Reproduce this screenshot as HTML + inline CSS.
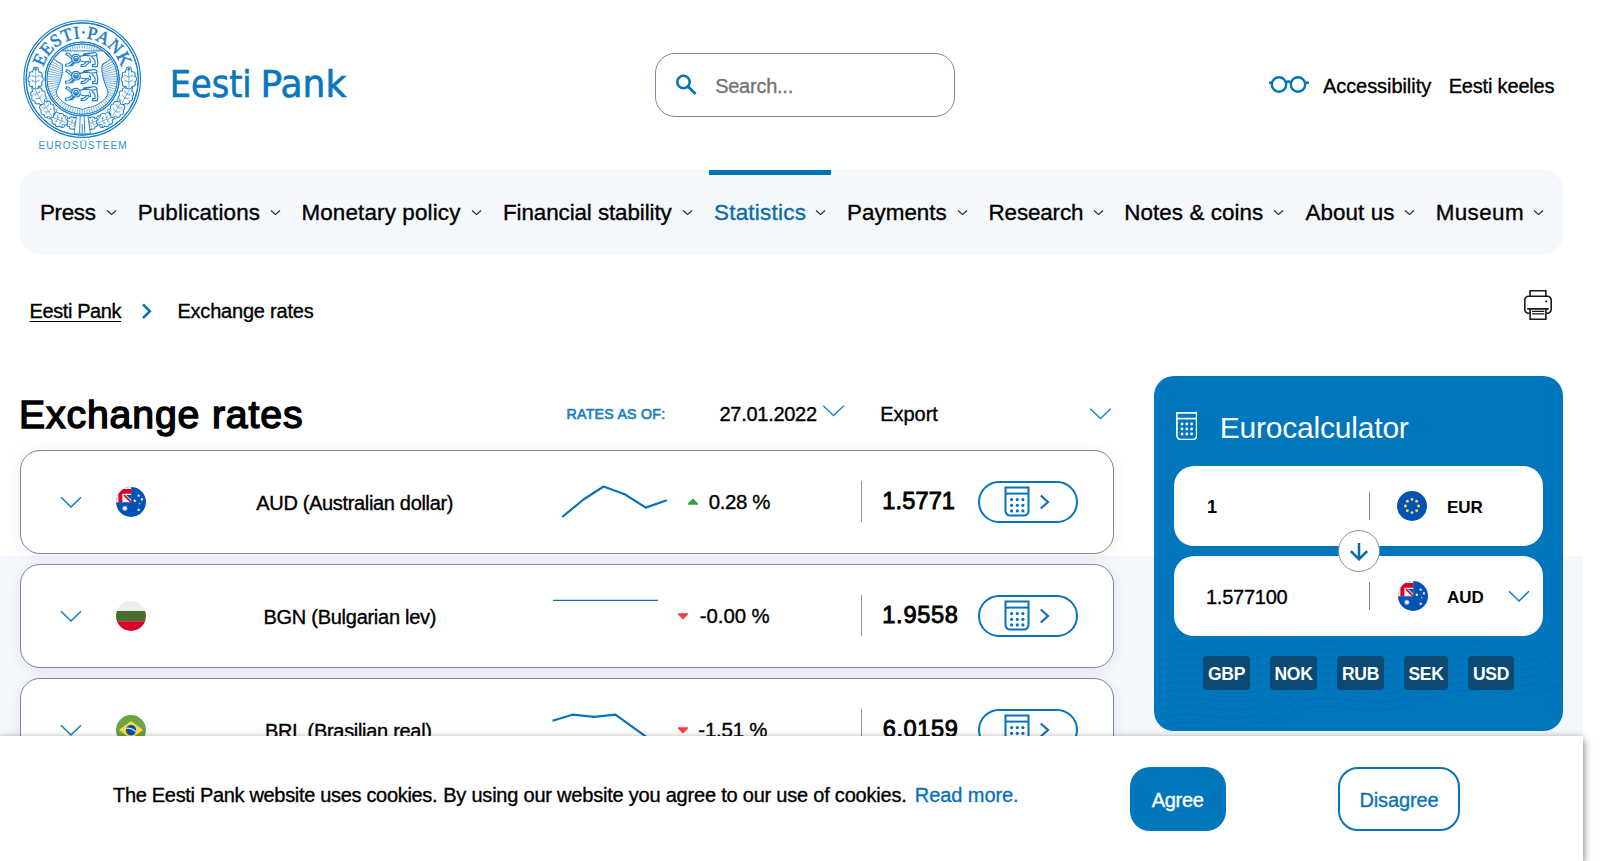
<!DOCTYPE html>
<html lang="en">
<head>
<meta charset="utf-8">
<title>Exchange rates | Eesti Pank</title>
<style>
*{box-sizing:border-box;margin:0;padding:0}
html,body{width:1603px;height:861px;overflow:hidden;background:#fff}
body{font-family:"Liberation Sans",sans-serif;color:#000;position:relative}
.abs{position:absolute}
.t{position:absolute;white-space:nowrap;line-height:1;-webkit-text-stroke:0.350px}
#greybg{left:0;top:556px;width:1583px;height:305px;background:#f4f7fb}
/* header */
#search{left:655px;top:53px;width:300px;height:64px;border:1px solid #7a869e;border-radius:20px;background:#fff}
#nav{left:20px;top:170px;width:1543px;height:84px;background:#f4f7fb;border-radius:20px}
#navact{left:709px;top:170px;width:122px;height:5px;background:#0073b5}
.nv{font-size:22.4px;top:201.700px;color:#000}
.nv.act{color:#0a6ea6}
.chev{position:absolute;top:209px;width:11px;height:7px}
/* cards */
.card{position:absolute;left:20px;width:1094px;height:104px;border:1px solid #7c869a;border-radius:20px;background:#fff;box-shadow:0 2px 14px rgba(20,40,80,.08)}
.cname{font-size:20px}
.pct{font-size:20.400px}
.rate{font-size:23.600px;-webkit-text-stroke:0.900px}
.vline{position:absolute;left:861px;width:1px;height:41px;background:#8b94a8}
.pill{position:absolute;left:978px;width:100px;height:42px;border:2px solid #0a73b7;border-radius:21px;background:#fff}
/* calc */
#calc{left:1154px;top:376px;width:409px;height:355px;background:#0076bd;border-radius:20px;overflow:hidden}
.cbox{position:absolute;left:1174px;width:369px;height:80px;background:#fff;border-radius:20px}
.cur{position:absolute;top:656px;height:34px;background:#0a4a73;color:#fff;border-radius:4px;font-size:17.500px;font-weight:bold;line-height:36px;text-align:center;letter-spacing:-0.300px}
/* cookie */
#cookie{left:0;top:736px;width:1583px;height:125px;background:#fff;box-shadow:0 3px 8px rgba(0,0,0,.6)}
</style>
</head>
<body>
<svg width="0" height="0" style="position:absolute">
<defs>
<clipPath id="cc"><circle cx="15" cy="15" r="15"/></clipPath>
<symbol id="f-au" viewBox="0 0 30 30"><g clip-path="url(#cc)"><rect width="30" height="30" fill="#0052b4"/><path d="M0 0h15.200v15.200H0z" fill="#f0f0f0"/><path d="M4.500 2h10.700v4.800H6.300v8.400H2.400V4.500z" fill="#d80027"/><path d="M10.200 8.100H15.200V12.700z" fill="#0052b4"/><path d="M7.400 8.700l1.100-1.100L15.200 14v1.200h-1.100z" fill="#d80027"/><path d="M8.90 18.20L9.64 19.87L11.40 19.40L10.56 21.02L12.02 22.11L10.23 22.46L10.29 24.28L8.90 23.10L7.51 24.28L7.57 22.46L5.78 22.11L7.24 21.02L6.40 19.40L8.16 19.87ZM22.70 6.80L23.20 7.91L24.41 8.04L23.51 8.86L23.76 10.06L22.70 9.45L21.64 10.06L21.89 8.86L20.99 8.04L22.20 7.91ZM25.90 10.50L26.40 11.61L27.61 11.74L26.71 12.56L26.96 13.76L25.90 13.15L24.84 13.76L25.09 12.56L24.19 11.74L25.40 11.61ZM18.80 12.00L19.30 13.11L20.51 13.24L19.61 14.06L19.86 15.26L18.80 14.65L17.74 15.26L17.99 14.06L17.09 13.24L18.30 13.11ZM23.60 15.70L23.89 16.30L24.55 16.39L24.08 16.85L24.19 17.51L23.60 17.20L23.01 17.51L23.12 16.85L22.65 16.39L23.31 16.30ZM22.70 21.00L23.20 22.11L24.41 22.24L23.51 23.06L23.76 24.26L22.70 23.65L21.64 24.26L21.89 23.06L20.99 22.24L22.20 22.11Z" fill="#f0f0f0"/></g></symbol>
<symbol id="f-bg" viewBox="0 0 30 30"><g clip-path="url(#cc)"><rect width="30" height="10" fill="#eee"/><rect y="10" width="30" height="10.300" fill="#496e2d"/><rect y="20.300" width="30" height="9.700" fill="#d80027"/></g></symbol>
<symbol id="f-br" viewBox="0 0 30 30"><g clip-path="url(#cc)"><rect width="30" height="30" fill="#6da544"/><path d="M15 6l12 9-12 9L3 15z" fill="#ffda44"/><circle cx="15" cy="15" r="5.200" fill="#0052b4"/><path d="M10.200 13.300q5-1 9.700 3.200" stroke="#f0f0f0" stroke-width="1.300" fill="none"/></g></symbol>
<symbol id="f-eu" viewBox="0 0 30 30"><g clip-path="url(#cc)"><rect width="30" height="30" fill="#0052b4"/><g fill="#ffda44"><circle cx="15" cy="8.400" r="1.450"/><circle cx="15" cy="21.600" r="1.450"/><circle cx="8.400" cy="15" r="1.450"/><circle cx="21.600" cy="15" r="1.450"/><circle cx="10.300" cy="10.300" r="1.450"/><circle cx="19.700" cy="10.300" r="1.450"/><circle cx="10.300" cy="19.700" r="1.450"/><circle cx="19.700" cy="19.700" r="1.450"/></g></g></symbol>
<symbol id="i-calc" viewBox="0 0 26 31"><g fill="none" stroke="#0a73b7" stroke-width="2"><path d="M1.500 1.500h23v23.500a4.500 4.500 0 0 1-4.500 4.500h-14a4.500 4.500 0 0 1-4.500-4.500z"/><path d="M1.500 7.600h23"/></g><g fill="#0a73b7"><circle cx="7.600" cy="13.600" r="1.600"/><circle cx="13.300" cy="13.600" r="1.600"/><circle cx="18.900" cy="13.600" r="1.600"/><circle cx="7.600" cy="19.300" r="1.600"/><circle cx="13.300" cy="19.300" r="1.600"/><circle cx="18.900" cy="19.300" r="1.600"/><circle cx="7.600" cy="24.900" r="1.600"/><circle cx="13.300" cy="24.900" r="1.600"/><circle cx="18.900" cy="24.900" r="1.600"/></g></symbol>
<symbol id="i-chv" viewBox="0 0 22 13"><path d="M1 1.300L11 11L21 1.300" fill="none" stroke="#0a7dc2" stroke-width="1.500"/></symbol>
<symbol id="i-chr" viewBox="0 0 11 16"><path d="M1.800 1.500L9 8l-7.200 6.500" fill="none" stroke="#0a73b7" stroke-width="2.200"/></symbol>
</defs>
</svg>
<div class="abs" id="greybg"></div>

<!-- HEADER -->
<div id="logo" class="abs" style="left:20px;top:15px;width:340px;height:140px">
<svg width="340" height="140" viewBox="0 0 340 140">
<!--SEAL-->
<path d="M81.7 64L97.2 64M81.65 65.46L97.1 66.62M81.48 66.91L96.81 69.22M81.21 68.34L96.32 71.79M80.83 69.75L95.65 74.32M80.35 71.12L94.78 76.79M79.77 72.46L93.73 79.19M79.09 73.75L92.51 81.5M78.31 74.98L91.12 83.72M77.45 76.16L89.56 85.82M84.56 84.75L87.86 87.81M82.95 86.36L86.01 89.66M81.22 87.85L84.02 91.36M79.38 89.2L81.92 92.92M77.45 90.41L79.7 94.31M75.43 91.48L77.39 95.53M73.34 92.39L74.99 96.58M71.19 93.14L72.52 97.45M68.99 93.74L69.99 98.12M66.75 94.16L67.42 98.61M64.48 94.41L64.82 98.9M62.2 94.5L62.2 99M59.92 94.41L59.58 98.9M57.65 94.16L56.98 98.61M55.41 93.74L54.41 98.12M53.21 93.14L51.88 97.45M51.06 92.39L49.41 96.58M48.97 91.48L47.01 95.53M46.95 90.41L44.7 94.31M45.02 89.2L42.48 92.92M43.18 87.85L40.38 91.36M41.45 86.36L38.39 89.66M39.84 84.75L36.54 87.81M46.95 76.16L34.84 85.82M46.09 74.98L33.28 83.72M45.31 73.75L31.89 81.5M44.63 72.46L30.67 79.19M44.05 71.12L29.62 76.79M43.57 69.75L28.75 74.32M43.19 68.34L28.08 71.79M42.92 66.91L27.59 69.22M42.75 65.46L27.3 66.62M42.7 64L27.2 64M42.75 62.54L27.3 61.38M42.92 61.09L27.59 58.78M43.19 59.66L28.08 56.21M43.57 58.25L28.75 53.68M44.05 56.88L29.62 51.21M44.63 55.54L30.67 48.81M45.31 54.25L31.89 46.5M46.09 53.02L33.28 44.28M46.95 51.84L34.84 42.18M39.84 43.25L36.54 40.19M41.45 41.64L38.39 38.34M43.18 40.15L40.38 36.64M45.02 38.8L42.48 35.08M46.95 37.59L44.7 33.69M48.97 36.52L47.01 32.47M51.06 35.61L49.41 31.42M53.21 34.86L51.88 30.55M55.41 34.26L54.41 29.88M57.65 33.84L56.98 29.39M59.92 33.59L59.58 29.1M62.2 33.5L62.2 29M64.48 33.59L64.82 29.1M66.75 33.84L67.42 29.39M68.99 34.26L69.99 29.88M71.19 34.86L72.52 30.55M73.34 35.61L74.99 31.42M75.43 36.52L77.39 32.47M77.45 37.59L79.7 33.69M79.38 38.8L81.92 35.08M81.22 40.15L84.02 36.64M82.95 41.64L86.01 38.34M84.56 43.25L87.86 40.19M77.45 51.84L89.56 42.18M78.31 53.02L91.12 44.28M79.09 54.25L92.51 46.5M79.77 55.54L93.73 48.81M80.35 56.88L94.78 51.21M80.83 58.25L95.65 53.68M81.21 59.66L96.32 56.21M81.48 61.09L96.81 58.78M81.65 62.54L97.1 61.38" fill="none" stroke="#1b80c9" stroke-width="0.6"/>
<g fill="none" stroke="#1b80c9" stroke-width="1.15">
<circle cx="62.2" cy="64.0" r="58.3"/>
<circle cx="62.2" cy="64.0" r="56.1"/>
<circle cx="62.2" cy="64.0" r="37.0"/>
<circle cx="62.2" cy="64.0" r="35.2"/>
</g>
<path d="M41.3 35.9L83.1 35.9L90.4 43.4C88.2 47 84.2 47.5 82.2 49.4C81.7 54 81.8 56 82.3 58.7C83.2 64 84.7 68 86.2 71.8C87.2 74.5 88.4 76.5 88 78.7C86.7 82 84.7 84.5 81.9 86.6C78.7 89 75.7 90.6 72.3 91.8C68.2 93 64.7 93 62.2 94.6C59.7 93 56.2 93 52.1 91.8C48.7 90.6 45.7 89 42.5 86.6C39.7 84.5 37.7 82 36.4 78.7C36 76.5 37.2 74.5 38.2 71.8C39.7 68 41.2 64 42.1 58.7C42.6 56 42.7 54 42.2 49.4C40.2 47.5 36.2 47 34 43.4Z" fill="#fff" stroke="#1b80c9" stroke-width="1"/>
<path transform="translate(45 37)" d="M11 2.400c-2.600 0-4.300 1.900-4.300 4.300c0 2.500 1.800 4.300 4.300 4.300c2.500 0 4.200-1.800 4.200-4.300c0-2.400-1.700-4.300-4.200-4.300zM11 4.200c-1.400 0-2.300 1.100-2.300 2.500c0 1.500 .9 2.500 2.300 2.500c1.400 0 2.300-1 2.300-2.500c0-1.400-.9-2.500-2.300-2.500zM10.200 6.200v1.500M11.800 6.200v1.500M10.300 8.300h1.400M7.300 4.800L3.600 1.200L1.400 .8L.8 2.600L2.600 3.200L6.700 7.200M7.200 9.200L3.600 11.800L.6 12.200L.4 14.200L4.400 14L8.600 10.800M9.600 11L7.800 13.400L5.800 13.600M15 4.400c3-1 6.500-1.200 9.500-.6c2.500 .5 5 .3 7.500-.8M15.200 8.800c2.500 1 5.500 1.200 8.500 .6M17.500 3.600c2-1.600 4.500-1.200 6.500-1.800c2-.6 4-1.600 6-1c1.500 .5 2.500 1.700 2 2.800M18.500 2.200c2-.8 4-.4 5.800-1.200M22 9.400L19.400 12L16.200 12.600L16 14.400L20.400 14.200L24.400 10.400M27 5.200c1.500 1.200 2.700 2.600 3.200 4.400L30 12.400L27.600 12.600L27.400 14.600L32.400 14.600L32.800 9.600C32.600 7.400 32 5.400 31.400 3.400M24.400 6.200c1 1.400 1.400 2.800 1 4.400" fill="none" stroke="#1b80c9" stroke-width="1.15" stroke-linejoin="round" stroke-linecap="round"/>
<path transform="translate(45 54)" d="M11 2.400c-2.600 0-4.300 1.900-4.300 4.300c0 2.500 1.800 4.300 4.300 4.300c2.500 0 4.200-1.800 4.200-4.300c0-2.400-1.700-4.300-4.200-4.300zM11 4.200c-1.400 0-2.300 1.100-2.300 2.500c0 1.500 .9 2.500 2.300 2.500c1.400 0 2.300-1 2.300-2.500c0-1.400-.9-2.500-2.300-2.500zM10.200 6.200v1.500M11.800 6.200v1.500M10.300 8.300h1.400M7.300 4.800L3.600 1.200L1.400 .8L.8 2.600L2.600 3.200L6.700 7.200M7.200 9.200L3.600 11.800L.6 12.200L.4 14.200L4.400 14L8.600 10.800M9.600 11L7.800 13.400L5.800 13.600M15 4.400c3-1 6.500-1.200 9.500-.6c2.500 .5 5 .3 7.500-.8M15.200 8.800c2.500 1 5.500 1.200 8.500 .6M17.500 3.600c2-1.600 4.500-1.200 6.500-1.800c2-.6 4-1.600 6-1c1.500 .5 2.500 1.700 2 2.800M18.500 2.200c2-.8 4-.4 5.800-1.200M22 9.400L19.400 12L16.200 12.600L16 14.400L20.400 14.200L24.400 10.400M27 5.200c1.500 1.200 2.700 2.600 3.200 4.400L30 12.400L27.600 12.600L27.400 14.600L32.400 14.600L32.800 9.600C32.600 7.400 32 5.400 31.400 3.400M24.400 6.200c1 1.400 1.400 2.800 1 4.400" fill="none" stroke="#1b80c9" stroke-width="1.15" stroke-linejoin="round" stroke-linecap="round"/>
<path transform="translate(45 71)" d="M11 2.400c-2.600 0-4.300 1.900-4.300 4.300c0 2.500 1.800 4.300 4.300 4.300c2.500 0 4.200-1.800 4.200-4.300c0-2.400-1.700-4.300-4.200-4.300zM11 4.200c-1.400 0-2.300 1.100-2.300 2.500c0 1.500 .9 2.500 2.300 2.500c1.400 0 2.300-1 2.300-2.500c0-1.400-.9-2.500-2.300-2.500zM10.200 6.200v1.500M11.800 6.200v1.500M10.300 8.300h1.400M7.300 4.800L3.600 1.200L1.400 .8L.8 2.600L2.600 3.200L6.700 7.200M7.200 9.200L3.600 11.800L.6 12.200L.4 14.200L4.400 14L8.600 10.800M9.600 11L7.800 13.400L5.800 13.600M15 4.400c3-1 6.500-1.200 9.500-.6c2.500 .5 5 .3 7.500-.8M15.200 8.800c2.500 1 5.500 1.200 8.500 .6M17.500 3.600c2-1.600 4.500-1.200 6.500-1.800c2-.6 4-1.600 6-1c1.500 .5 2.500 1.700 2 2.800M18.500 2.200c2-.8 4-.4 5.800-1.200M22 9.400L19.400 12L16.200 12.600L16 14.400L20.400 14.200L24.400 10.400M27 5.200c1.500 1.200 2.700 2.600 3.200 4.400L30 12.400L27.600 12.600L27.400 14.600L32.400 14.600L32.800 9.600C32.600 7.400 32 5.400 31.400 3.400M24.400 6.200c1 1.400 1.400 2.800 1 4.400" fill="none" stroke="#1b80c9" stroke-width="1.15" stroke-linejoin="round" stroke-linecap="round"/>
<path d="M54.92 110.52a3.05 3.05 0 1 0 6.1 0a3.05 3.05 0 1 0 -6.1 0M52.49 109.33a3.05 3.05 0 1 0 6.1 0a3.05 3.05 0 1 0 -6.1 0M50.06 108.15a3.05 3.05 0 1 0 6.1 0a3.05 3.05 0 1 0 -6.1 0M47.64 106.96a3.05 3.05 0 1 0 6.1 0a3.05 3.05 0 1 0 -6.1 0M45.48 105.91a3.05 3.05 0 1 0 6.1 0a3.05 3.05 0 1 0 -6.1 0M44.4 105.19a2.65 2.65 0 1 0 5.3 0a2.65 2.65 0 1 0 -5.3 0M52.51 112.64a2.75 2.75 0 1 0 5.5 0a2.75 2.75 0 1 0 -5.5 0M55.23 107.07a2.75 2.75 0 1 0 5.5 0a2.75 2.75 0 1 0 -5.5 0M48.85 111.67a3.05 3.05 0 1 0 6.1 0a3.05 3.05 0 1 0 -6.1 0M52.09 105.02a3.05 3.05 0 1 0 6.1 0a3.05 3.05 0 1 0 -6.1 0M46.31 109.62a2.75 2.75 0 1 0 5.5 0a2.75 2.75 0 1 0 -5.5 0M49.03 104.05a2.75 2.75 0 1 0 5.5 0a2.75 2.75 0 1 0 -5.5 0" fill="#1b80c9"/><path d="M55.87 110.52a2.1 2.1 0 1 0 4.2 0a2.1 2.1 0 1 0 -4.2 0M53.44 109.33a2.1 2.1 0 1 0 4.2 0a2.1 2.1 0 1 0 -4.2 0M51.01 108.15a2.1 2.1 0 1 0 4.2 0a2.1 2.1 0 1 0 -4.2 0M48.59 106.96a2.1 2.1 0 1 0 4.2 0a2.1 2.1 0 1 0 -4.2 0M46.43 105.91a2.1 2.1 0 1 0 4.2 0a2.1 2.1 0 1 0 -4.2 0M45.35 105.19a1.7 1.7 0 1 0 3.4 0a1.7 1.7 0 1 0 -3.4 0M53.46 112.64a1.8 1.8 0 1 0 3.6 0a1.8 1.8 0 1 0 -3.6 0M56.18 107.07a1.8 1.8 0 1 0 3.6 0a1.8 1.8 0 1 0 -3.6 0M49.8 111.67a2.1 2.1 0 1 0 4.2 0a2.1 2.1 0 1 0 -4.2 0M53.04 105.02a2.1 2.1 0 1 0 4.2 0a2.1 2.1 0 1 0 -4.2 0M47.26 109.62a1.8 1.8 0 1 0 3.6 0a1.8 1.8 0 1 0 -3.6 0M49.98 104.05a1.8 1.8 0 1 0 3.6 0a1.8 1.8 0 1 0 -3.6 0" fill="#fff"/><path d="M59.58 111.3L47.45 105.39M55.54 109.33L55.46 105.4M55.54 109.33L52.39 111.69M52.17 107.69L52.09 103.75M52.17 107.69L49.02 110.04" fill="none" stroke="#1b80c9" stroke-width="0.6"/>
<path d="M41.74 107.27a3.3 3.3 0 1 0 6.6 0a3.3 3.3 0 1 0 -6.6 0M38.74 106.05a3.3 3.3 0 1 0 6.6 0a3.3 3.3 0 1 0 -6.6 0M35.73 104.84a3.3 3.3 0 1 0 6.6 0a3.3 3.3 0 1 0 -6.6 0M32.73 103.62a3.3 3.3 0 1 0 6.6 0a3.3 3.3 0 1 0 -6.6 0M30.06 102.55a3.3 3.3 0 1 0 6.6 0a3.3 3.3 0 1 0 -6.6 0M28.67 101.8a2.85 2.85 0 1 0 5.71 0a2.85 2.85 0 1 0 -5.71 0M39.11 109.81a2.97 2.97 0 1 0 5.93 0a2.97 2.97 0 1 0 -5.93 0M41.71 103.37a2.97 2.97 0 1 0 5.93 0a2.97 2.97 0 1 0 -5.93 0M34.68 108.88a3.3 3.3 0 1 0 6.6 0a3.3 3.3 0 1 0 -6.6 0M37.78 101.2a3.3 3.3 0 1 0 6.6 0a3.3 3.3 0 1 0 -6.6 0M31.43 106.71a2.97 2.97 0 1 0 5.93 0a2.97 2.97 0 1 0 -5.93 0M34.03 100.27a2.97 2.97 0 1 0 5.93 0a2.97 2.97 0 1 0 -5.93 0" fill="#1b80c9"/><path d="M42.69 107.27a2.35 2.35 0 1 0 4.7 0a2.35 2.35 0 1 0 -4.7 0M39.69 106.05a2.35 2.35 0 1 0 4.7 0a2.35 2.35 0 1 0 -4.7 0M36.68 104.84a2.35 2.35 0 1 0 4.7 0a2.35 2.35 0 1 0 -4.7 0M33.68 103.62a2.35 2.35 0 1 0 4.7 0a2.35 2.35 0 1 0 -4.7 0M31.01 102.55a2.35 2.35 0 1 0 4.7 0a2.35 2.35 0 1 0 -4.7 0M29.62 101.8a1.9 1.9 0 1 0 3.81 0a1.9 1.9 0 1 0 -3.81 0M40.06 109.81a2.02 2.02 0 1 0 4.03 0a2.02 2.02 0 1 0 -4.03 0M42.66 103.37a2.02 2.02 0 1 0 4.03 0a2.02 2.02 0 1 0 -4.03 0M35.63 108.88a2.35 2.35 0 1 0 4.7 0a2.35 2.35 0 1 0 -4.7 0M38.73 101.2a2.35 2.35 0 1 0 4.7 0a2.35 2.35 0 1 0 -4.7 0M32.38 106.71a2.02 2.02 0 1 0 4.03 0a2.02 2.02 0 1 0 -4.03 0M34.98 100.27a2.02 2.02 0 1 0 4.03 0a2.02 2.02 0 1 0 -4.03 0" fill="#fff"/><path d="M47.04 108.07L32.02 102.01M42.04 106.05L41.5 101.61M42.04 106.05L38.57 108.88M37.87 104.37L37.33 99.92M37.87 104.37L34.39 107.19" fill="none" stroke="#1b80c9" stroke-width="0.6"/>
<path d="M27.4 99.69a3.39 3.39 0 1 0 6.77 0a3.39 3.39 0 1 0 -6.77 0M25.59 96.79a3.39 3.39 0 1 0 6.77 0a3.39 3.39 0 1 0 -6.77 0M23.78 93.89a3.39 3.39 0 1 0 6.77 0a3.39 3.39 0 1 0 -6.77 0M21.97 90.99a3.39 3.39 0 1 0 6.77 0a3.39 3.39 0 1 0 -6.77 0M20.35 88.41a3.39 3.39 0 1 0 6.77 0a3.39 3.39 0 1 0 -6.77 0M19.71 86.64a2.92 2.92 0 1 0 5.84 0a2.92 2.92 0 1 0 -5.84 0M23.69 99.99a3.04 3.04 0 1 0 6.08 0a3.04 3.04 0 1 0 -6.08 0M29.79 96.17a3.04 3.04 0 1 0 6.08 0a3.04 3.04 0 1 0 -6.08 0M20.44 96.65a3.39 3.39 0 1 0 6.77 0a3.39 3.39 0 1 0 -6.77 0M27.72 92.1a3.39 3.39 0 1 0 6.77 0a3.39 3.39 0 1 0 -6.77 0M19.06 92.57a3.04 3.04 0 1 0 6.08 0a3.04 3.04 0 1 0 -6.08 0M25.16 88.76a3.04 3.04 0 1 0 6.08 0a3.04 3.04 0 1 0 -6.08 0" fill="#1b80c9"/><path d="M28.35 99.69a2.44 2.44 0 1 0 4.87 0a2.44 2.44 0 1 0 -4.87 0M26.54 96.79a2.44 2.44 0 1 0 4.87 0a2.44 2.44 0 1 0 -4.87 0M24.73 93.89a2.44 2.44 0 1 0 4.87 0a2.44 2.44 0 1 0 -4.87 0M22.92 90.99a2.44 2.44 0 1 0 4.87 0a2.44 2.44 0 1 0 -4.87 0M21.3 88.41a2.44 2.44 0 1 0 4.87 0a2.44 2.44 0 1 0 -4.87 0M20.66 86.64a1.97 1.97 0 1 0 3.94 0a1.97 1.97 0 1 0 -3.94 0M24.64 99.99a2.09 2.09 0 1 0 4.18 0a2.09 2.09 0 1 0 -4.18 0M30.74 96.17a2.09 2.09 0 1 0 4.18 0a2.09 2.09 0 1 0 -4.18 0M21.39 96.65a2.44 2.44 0 1 0 4.87 0a2.44 2.44 0 1 0 -4.87 0M28.67 92.1a2.44 2.44 0 1 0 4.87 0a2.44 2.44 0 1 0 -4.87 0M20.01 92.57a2.09 2.09 0 1 0 4.18 0a2.09 2.09 0 1 0 -4.18 0M26.11 88.76a2.09 2.09 0 1 0 4.18 0a2.09 2.09 0 1 0 -4.18 0" fill="#fff"/><path d="M32 101.62L22.93 87.12M28.98 96.79L31.21 92.71M28.98 96.79L24.32 97.01M26.46 92.76L28.69 88.68M26.46 92.76L21.81 92.98" fill="none" stroke="#1b80c9" stroke-width="0.6"/>
<path d="M18.04 86.45a3.39 3.39 0 1 0 6.77 0a3.39 3.39 0 1 0 -6.77 0M16.43 83.43a3.39 3.39 0 1 0 6.77 0a3.39 3.39 0 1 0 -6.77 0M14.83 80.41a3.39 3.39 0 1 0 6.77 0a3.39 3.39 0 1 0 -6.77 0M13.22 77.39a3.39 3.39 0 1 0 6.77 0a3.39 3.39 0 1 0 -6.77 0M11.79 74.71a3.39 3.39 0 1 0 6.77 0a3.39 3.39 0 1 0 -6.77 0M11.28 72.86a2.92 2.92 0 1 0 5.84 0a2.92 2.92 0 1 0 -5.84 0M14.32 86.46a3.04 3.04 0 1 0 6.08 0a3.04 3.04 0 1 0 -6.08 0M20.67 83.08a3.04 3.04 0 1 0 6.08 0a3.04 3.04 0 1 0 -6.08 0M11.3 82.93a3.39 3.39 0 1 0 6.77 0a3.39 3.39 0 1 0 -6.77 0M18.88 78.9a3.39 3.39 0 1 0 6.77 0a3.39 3.39 0 1 0 -6.77 0M10.22 78.74a3.04 3.04 0 1 0 6.08 0a3.04 3.04 0 1 0 -6.08 0M16.57 75.37a3.04 3.04 0 1 0 6.08 0a3.04 3.04 0 1 0 -6.08 0" fill="#1b80c9"/><path d="M18.99 86.45a2.44 2.44 0 1 0 4.87 0a2.44 2.44 0 1 0 -4.87 0M17.38 83.43a2.44 2.44 0 1 0 4.87 0a2.44 2.44 0 1 0 -4.87 0M15.78 80.41a2.44 2.44 0 1 0 4.87 0a2.44 2.44 0 1 0 -4.87 0M14.17 77.39a2.44 2.44 0 1 0 4.87 0a2.44 2.44 0 1 0 -4.87 0M12.74 74.71a2.44 2.44 0 1 0 4.87 0a2.44 2.44 0 1 0 -4.87 0M12.23 72.86a1.97 1.97 0 1 0 3.94 0a1.97 1.97 0 1 0 -3.94 0M15.27 86.46a2.09 2.09 0 1 0 4.18 0a2.09 2.09 0 1 0 -4.18 0M21.62 83.08a2.09 2.09 0 1 0 4.18 0a2.09 2.09 0 1 0 -4.18 0M12.25 82.93a2.44 2.44 0 1 0 4.87 0a2.44 2.44 0 1 0 -4.87 0M19.83 78.9a2.44 2.44 0 1 0 4.87 0a2.44 2.44 0 1 0 -4.87 0M11.17 78.74a2.09 2.09 0 1 0 4.18 0a2.09 2.09 0 1 0 -4.18 0M17.52 75.37a2.09 2.09 0 1 0 4.18 0a2.09 2.09 0 1 0 -4.18 0" fill="#fff"/><path d="M22.49 88.46L14.47 73.36M19.82 83.43L22.33 79.51M19.82 83.43L15.16 83.32M17.59 79.24L20.1 75.32M17.59 79.24L12.93 79.13" fill="none" stroke="#1b80c9" stroke-width="0.6"/>
<path d="M11.92 70.79a3.55 3.55 0 1 0 7.11 0a3.55 3.55 0 1 0 -7.11 0M11.98 67.19a3.55 3.55 0 1 0 7.11 0a3.55 3.55 0 1 0 -7.11 0M12.05 63.59a3.55 3.55 0 1 0 7.11 0a3.55 3.55 0 1 0 -7.11 0M12.11 59.99a3.55 3.55 0 1 0 7.11 0a3.55 3.55 0 1 0 -7.11 0M12.16 56.79a3.55 3.55 0 1 0 7.11 0a3.55 3.55 0 1 0 -7.11 0M12.7 54.59a3.06 3.06 0 1 0 6.12 0a3.06 3.06 0 1 0 -6.12 0M8.48 68.72a3.18 3.18 0 1 0 6.36 0a3.18 3.18 0 1 0 -6.36 0M16.17 68.85a3.18 3.18 0 1 0 6.36 0a3.18 3.18 0 1 0 -6.36 0M7.45 64.11a3.55 3.55 0 1 0 7.11 0a3.55 3.55 0 1 0 -7.11 0M16.62 64.27a3.55 3.55 0 1 0 7.11 0a3.55 3.55 0 1 0 -7.11 0M8.64 59.52a3.18 3.18 0 1 0 6.36 0a3.18 3.18 0 1 0 -6.36 0M16.33 59.65a3.18 3.18 0 1 0 6.36 0a3.18 3.18 0 1 0 -6.36 0" fill="#1b80c9"/><path d="M12.87 70.79a2.6 2.6 0 1 0 5.21 0a2.6 2.6 0 1 0 -5.21 0M12.93 67.19a2.6 2.6 0 1 0 5.21 0a2.6 2.6 0 1 0 -5.21 0M13 63.59a2.6 2.6 0 1 0 5.21 0a2.6 2.6 0 1 0 -5.21 0M13.06 59.99a2.6 2.6 0 1 0 5.21 0a2.6 2.6 0 1 0 -5.21 0M13.11 56.79a2.6 2.6 0 1 0 5.21 0a2.6 2.6 0 1 0 -5.21 0M13.65 54.59a2.11 2.11 0 1 0 4.22 0a2.11 2.11 0 1 0 -4.22 0M9.43 68.72a2.23 2.23 0 1 0 4.46 0a2.23 2.23 0 1 0 -4.46 0M17.12 68.85a2.23 2.23 0 1 0 4.46 0a2.23 2.23 0 1 0 -4.46 0M8.4 64.11a2.6 2.6 0 1 0 5.21 0a2.6 2.6 0 1 0 -5.21 0M17.57 64.27a2.6 2.6 0 1 0 5.21 0a2.6 2.6 0 1 0 -5.21 0M9.59 59.52a2.23 2.23 0 1 0 4.46 0a2.23 2.23 0 1 0 -4.46 0M17.28 59.65a2.23 2.23 0 1 0 4.46 0a2.23 2.23 0 1 0 -4.46 0" fill="#fff"/><path d="M15.43 73.19L15.75 55.19M15.54 67.19L19.92 64.86M15.54 67.19L11.24 64.71M15.62 62.19L20.01 59.86M15.62 62.19L11.33 59.71" fill="none" stroke="#1b80c9" stroke-width="0.6"/>
<path d="M63.38 110.52a3.05 3.05 0 1 0 6.1 0a3.05 3.05 0 1 0 -6.1 0M65.81 109.33a3.05 3.05 0 1 0 6.1 0a3.05 3.05 0 1 0 -6.1 0M68.24 108.15a3.05 3.05 0 1 0 6.1 0a3.05 3.05 0 1 0 -6.1 0M70.66 106.96a3.05 3.05 0 1 0 6.1 0a3.05 3.05 0 1 0 -6.1 0M72.82 105.91a3.05 3.05 0 1 0 6.1 0a3.05 3.05 0 1 0 -6.1 0M74.7 105.19a2.65 2.65 0 1 0 5.3 0a2.65 2.65 0 1 0 -5.3 0M63.67 107.07a2.75 2.75 0 1 0 5.5 0a2.75 2.75 0 1 0 -5.5 0M66.39 112.64a2.75 2.75 0 1 0 5.5 0a2.75 2.75 0 1 0 -5.5 0M66.21 105.02a3.05 3.05 0 1 0 6.1 0a3.05 3.05 0 1 0 -6.1 0M69.45 111.67a3.05 3.05 0 1 0 6.1 0a3.05 3.05 0 1 0 -6.1 0M69.87 104.05a2.75 2.75 0 1 0 5.5 0a2.75 2.75 0 1 0 -5.5 0M72.59 109.62a2.75 2.75 0 1 0 5.5 0a2.75 2.75 0 1 0 -5.5 0" fill="#1b80c9"/><path d="M64.33 110.52a2.1 2.1 0 1 0 4.2 0a2.1 2.1 0 1 0 -4.2 0M66.76 109.33a2.1 2.1 0 1 0 4.2 0a2.1 2.1 0 1 0 -4.2 0M69.19 108.15a2.1 2.1 0 1 0 4.2 0a2.1 2.1 0 1 0 -4.2 0M71.61 106.96a2.1 2.1 0 1 0 4.2 0a2.1 2.1 0 1 0 -4.2 0M73.77 105.91a2.1 2.1 0 1 0 4.2 0a2.1 2.1 0 1 0 -4.2 0M75.65 105.19a1.7 1.7 0 1 0 3.4 0a1.7 1.7 0 1 0 -3.4 0M64.62 107.07a1.8 1.8 0 1 0 3.6 0a1.8 1.8 0 1 0 -3.6 0M67.34 112.64a1.8 1.8 0 1 0 3.6 0a1.8 1.8 0 1 0 -3.6 0M67.16 105.02a2.1 2.1 0 1 0 4.2 0a2.1 2.1 0 1 0 -4.2 0M70.4 111.67a2.1 2.1 0 1 0 4.2 0a2.1 2.1 0 1 0 -4.2 0M70.82 104.05a1.8 1.8 0 1 0 3.6 0a1.8 1.8 0 1 0 -3.6 0M73.54 109.62a1.8 1.8 0 1 0 3.6 0a1.8 1.8 0 1 0 -3.6 0" fill="#fff"/><path d="M64.82 111.3L76.95 105.39M68.86 109.33L72.01 111.69M68.86 109.33L68.94 105.4M72.23 107.69L75.38 110.04M72.23 107.69L72.31 103.75" fill="none" stroke="#1b80c9" stroke-width="0.6"/>
<path d="M76.06 107.27a3.3 3.3 0 1 0 6.6 0a3.3 3.3 0 1 0 -6.6 0M79.06 106.05a3.3 3.3 0 1 0 6.6 0a3.3 3.3 0 1 0 -6.6 0M82.06 104.84a3.3 3.3 0 1 0 6.6 0a3.3 3.3 0 1 0 -6.6 0M85.07 103.62a3.3 3.3 0 1 0 6.6 0a3.3 3.3 0 1 0 -6.6 0M87.74 102.55a3.3 3.3 0 1 0 6.6 0a3.3 3.3 0 1 0 -6.6 0M90.02 101.8a2.85 2.85 0 1 0 5.71 0a2.85 2.85 0 1 0 -5.71 0M76.76 103.37a2.97 2.97 0 1 0 5.93 0a2.97 2.97 0 1 0 -5.93 0M79.36 109.81a2.97 2.97 0 1 0 5.93 0a2.97 2.97 0 1 0 -5.93 0M80.01 101.2a3.3 3.3 0 1 0 6.6 0a3.3 3.3 0 1 0 -6.6 0M83.12 108.88a3.3 3.3 0 1 0 6.6 0a3.3 3.3 0 1 0 -6.6 0M84.44 100.27a2.97 2.97 0 1 0 5.93 0a2.97 2.97 0 1 0 -5.93 0M87.04 106.71a2.97 2.97 0 1 0 5.93 0a2.97 2.97 0 1 0 -5.93 0" fill="#1b80c9"/><path d="M77.01 107.27a2.35 2.35 0 1 0 4.7 0a2.35 2.35 0 1 0 -4.7 0M80.01 106.05a2.35 2.35 0 1 0 4.7 0a2.35 2.35 0 1 0 -4.7 0M83.01 104.84a2.35 2.35 0 1 0 4.7 0a2.35 2.35 0 1 0 -4.7 0M86.02 103.62a2.35 2.35 0 1 0 4.7 0a2.35 2.35 0 1 0 -4.7 0M88.69 102.55a2.35 2.35 0 1 0 4.7 0a2.35 2.35 0 1 0 -4.7 0M90.97 101.8a1.9 1.9 0 1 0 3.81 0a1.9 1.9 0 1 0 -3.81 0M77.71 103.37a2.02 2.02 0 1 0 4.03 0a2.02 2.02 0 1 0 -4.03 0M80.31 109.81a2.02 2.02 0 1 0 4.03 0a2.02 2.02 0 1 0 -4.03 0M80.96 101.2a2.35 2.35 0 1 0 4.7 0a2.35 2.35 0 1 0 -4.7 0M84.07 108.88a2.35 2.35 0 1 0 4.7 0a2.35 2.35 0 1 0 -4.7 0M85.39 100.27a2.02 2.02 0 1 0 4.03 0a2.02 2.02 0 1 0 -4.03 0M87.99 106.71a2.02 2.02 0 1 0 4.03 0a2.02 2.02 0 1 0 -4.03 0" fill="#fff"/><path d="M77.36 108.07L92.38 102.01M82.36 106.05L85.83 108.88M82.36 106.05L82.9 101.61M86.53 104.37L90.01 107.19M86.53 104.37L87.07 99.92" fill="none" stroke="#1b80c9" stroke-width="0.6"/>
<path d="M90.23 99.69a3.39 3.39 0 1 0 6.77 0a3.39 3.39 0 1 0 -6.77 0M92.04 96.79a3.39 3.39 0 1 0 6.77 0a3.39 3.39 0 1 0 -6.77 0M93.85 93.89a3.39 3.39 0 1 0 6.77 0a3.39 3.39 0 1 0 -6.77 0M95.66 90.99a3.39 3.39 0 1 0 6.77 0a3.39 3.39 0 1 0 -6.77 0M97.27 88.41a3.39 3.39 0 1 0 6.77 0a3.39 3.39 0 1 0 -6.77 0M98.85 86.64a2.92 2.92 0 1 0 5.84 0a2.92 2.92 0 1 0 -5.84 0M88.53 96.17a3.04 3.04 0 1 0 6.08 0a3.04 3.04 0 1 0 -6.08 0M94.63 99.99a3.04 3.04 0 1 0 6.08 0a3.04 3.04 0 1 0 -6.08 0M89.91 92.1a3.39 3.39 0 1 0 6.77 0a3.39 3.39 0 1 0 -6.77 0M97.19 96.65a3.39 3.39 0 1 0 6.77 0a3.39 3.39 0 1 0 -6.77 0M93.16 88.76a3.04 3.04 0 1 0 6.08 0a3.04 3.04 0 1 0 -6.08 0M99.26 92.57a3.04 3.04 0 1 0 6.08 0a3.04 3.04 0 1 0 -6.08 0" fill="#1b80c9"/><path d="M91.18 99.69a2.44 2.44 0 1 0 4.87 0a2.44 2.44 0 1 0 -4.87 0M92.99 96.79a2.44 2.44 0 1 0 4.87 0a2.44 2.44 0 1 0 -4.87 0M94.8 93.89a2.44 2.44 0 1 0 4.87 0a2.44 2.44 0 1 0 -4.87 0M96.61 90.99a2.44 2.44 0 1 0 4.87 0a2.44 2.44 0 1 0 -4.87 0M98.22 88.41a2.44 2.44 0 1 0 4.87 0a2.44 2.44 0 1 0 -4.87 0M99.8 86.64a1.97 1.97 0 1 0 3.94 0a1.97 1.97 0 1 0 -3.94 0M89.48 96.17a2.09 2.09 0 1 0 4.18 0a2.09 2.09 0 1 0 -4.18 0M95.58 99.99a2.09 2.09 0 1 0 4.18 0a2.09 2.09 0 1 0 -4.18 0M90.86 92.1a2.44 2.44 0 1 0 4.87 0a2.44 2.44 0 1 0 -4.87 0M98.14 96.65a2.44 2.44 0 1 0 4.87 0a2.44 2.44 0 1 0 -4.87 0M94.11 88.76a2.09 2.09 0 1 0 4.18 0a2.09 2.09 0 1 0 -4.18 0M100.21 92.57a2.09 2.09 0 1 0 4.18 0a2.09 2.09 0 1 0 -4.18 0" fill="#fff"/><path d="M92.4 101.62L101.47 87.12M95.42 96.79L100.08 97.01M95.42 96.79L93.19 92.71M97.94 92.76L102.59 92.98M97.94 92.76L95.71 88.68" fill="none" stroke="#1b80c9" stroke-width="0.6"/>
<path d="M99.59 86.45a3.39 3.39 0 1 0 6.77 0a3.39 3.39 0 1 0 -6.77 0M101.2 83.43a3.39 3.39 0 1 0 6.77 0a3.39 3.39 0 1 0 -6.77 0M102.8 80.41a3.39 3.39 0 1 0 6.77 0a3.39 3.39 0 1 0 -6.77 0M104.41 77.39a3.39 3.39 0 1 0 6.77 0a3.39 3.39 0 1 0 -6.77 0M105.83 74.71a3.39 3.39 0 1 0 6.77 0a3.39 3.39 0 1 0 -6.77 0M107.28 72.86a2.92 2.92 0 1 0 5.84 0a2.92 2.92 0 1 0 -5.84 0M97.65 83.08a3.04 3.04 0 1 0 6.08 0a3.04 3.04 0 1 0 -6.08 0M104.01 86.46a3.04 3.04 0 1 0 6.08 0a3.04 3.04 0 1 0 -6.08 0M98.74 78.9a3.39 3.39 0 1 0 6.77 0a3.39 3.39 0 1 0 -6.77 0M106.32 82.93a3.39 3.39 0 1 0 6.77 0a3.39 3.39 0 1 0 -6.77 0M101.76 75.37a3.04 3.04 0 1 0 6.08 0a3.04 3.04 0 1 0 -6.08 0M108.11 78.74a3.04 3.04 0 1 0 6.08 0a3.04 3.04 0 1 0 -6.08 0" fill="#1b80c9"/><path d="M100.54 86.45a2.44 2.44 0 1 0 4.87 0a2.44 2.44 0 1 0 -4.87 0M102.15 83.43a2.44 2.44 0 1 0 4.87 0a2.44 2.44 0 1 0 -4.87 0M103.75 80.41a2.44 2.44 0 1 0 4.87 0a2.44 2.44 0 1 0 -4.87 0M105.36 77.39a2.44 2.44 0 1 0 4.87 0a2.44 2.44 0 1 0 -4.87 0M106.78 74.71a2.44 2.44 0 1 0 4.87 0a2.44 2.44 0 1 0 -4.87 0M108.23 72.86a1.97 1.97 0 1 0 3.94 0a1.97 1.97 0 1 0 -3.94 0M98.6 83.08a2.09 2.09 0 1 0 4.18 0a2.09 2.09 0 1 0 -4.18 0M104.96 86.46a2.09 2.09 0 1 0 4.18 0a2.09 2.09 0 1 0 -4.18 0M99.69 78.9a2.44 2.44 0 1 0 4.87 0a2.44 2.44 0 1 0 -4.87 0M107.27 82.93a2.44 2.44 0 1 0 4.87 0a2.44 2.44 0 1 0 -4.87 0M102.71 75.37a2.09 2.09 0 1 0 4.18 0a2.09 2.09 0 1 0 -4.18 0M109.06 78.74a2.09 2.09 0 1 0 4.18 0a2.09 2.09 0 1 0 -4.18 0" fill="#fff"/><path d="M101.91 88.46L109.93 73.36M104.58 83.43L109.24 83.32M104.58 83.43L102.07 79.51M106.81 79.24L111.47 79.13M106.81 79.24L104.3 75.32" fill="none" stroke="#1b80c9" stroke-width="0.6"/>
<path d="M105.37 70.79a3.55 3.55 0 1 0 7.11 0a3.55 3.55 0 1 0 -7.11 0M105.31 67.19a3.55 3.55 0 1 0 7.11 0a3.55 3.55 0 1 0 -7.11 0M105.25 63.59a3.55 3.55 0 1 0 7.11 0a3.55 3.55 0 1 0 -7.11 0M105.18 59.99a3.55 3.55 0 1 0 7.11 0a3.55 3.55 0 1 0 -7.11 0M105.13 56.79a3.55 3.55 0 1 0 7.11 0a3.55 3.55 0 1 0 -7.11 0M105.58 54.59a3.06 3.06 0 1 0 6.12 0a3.06 3.06 0 1 0 -6.12 0M101.87 68.85a3.18 3.18 0 1 0 6.36 0a3.18 3.18 0 1 0 -6.36 0M109.55 68.72a3.18 3.18 0 1 0 6.36 0a3.18 3.18 0 1 0 -6.36 0M100.67 64.27a3.55 3.55 0 1 0 7.11 0a3.55 3.55 0 1 0 -7.11 0M109.84 64.11a3.55 3.55 0 1 0 7.11 0a3.55 3.55 0 1 0 -7.11 0M101.7 59.65a3.18 3.18 0 1 0 6.36 0a3.18 3.18 0 1 0 -6.36 0M109.39 59.52a3.18 3.18 0 1 0 6.36 0a3.18 3.18 0 1 0 -6.36 0" fill="#1b80c9"/><path d="M106.32 70.79a2.6 2.6 0 1 0 5.21 0a2.6 2.6 0 1 0 -5.21 0M106.26 67.19a2.6 2.6 0 1 0 5.21 0a2.6 2.6 0 1 0 -5.21 0M106.2 63.59a2.6 2.6 0 1 0 5.21 0a2.6 2.6 0 1 0 -5.21 0M106.13 59.99a2.6 2.6 0 1 0 5.21 0a2.6 2.6 0 1 0 -5.21 0M106.08 56.79a2.6 2.6 0 1 0 5.21 0a2.6 2.6 0 1 0 -5.21 0M106.53 54.59a2.11 2.11 0 1 0 4.22 0a2.11 2.11 0 1 0 -4.22 0M102.82 68.85a2.23 2.23 0 1 0 4.46 0a2.23 2.23 0 1 0 -4.46 0M110.5 68.72a2.23 2.23 0 1 0 4.46 0a2.23 2.23 0 1 0 -4.46 0M101.62 64.27a2.6 2.6 0 1 0 5.21 0a2.6 2.6 0 1 0 -5.21 0M110.79 64.11a2.6 2.6 0 1 0 5.21 0a2.6 2.6 0 1 0 -5.21 0M102.65 59.65a2.23 2.23 0 1 0 4.46 0a2.23 2.23 0 1 0 -4.46 0M110.34 59.52a2.23 2.23 0 1 0 4.46 0a2.23 2.23 0 1 0 -4.46 0" fill="#fff"/><path d="M108.97 73.19L108.65 55.19M108.86 67.19L113.16 64.71M108.86 67.19L104.48 64.86M108.78 62.19L113.07 59.71M108.78 62.19L104.39 59.86" fill="none" stroke="#1b80c9" stroke-width="0.6"/>
<g fill="#fff" stroke="#1b80c9" stroke-width="0.8"><circle cx="25.83" cy="85" r="1.4"/><circle cx="28.74" cy="102.49" r="1.4"/><circle cx="35.52" cy="95.79" r="1.4"/><circle cx="43.28" cy="110.82" r="1.4"/><circle cx="46.47" cy="102.94" r="1.4"/><circle cx="56.08" cy="107.57" r="1.4"/><circle cx="98.57" cy="85" r="1.4"/><circle cx="95.66" cy="102.49" r="1.4"/><circle cx="88.88" cy="95.79" r="1.4"/><circle cx="81.12" cy="110.82" r="1.4"/><circle cx="77.93" cy="102.94" r="1.4"/><circle cx="68.32" cy="107.57" r="1.4"/></g>
<path d="M56.6 100.2L67.8 100.2L70.4 118.8L54 118.8ZM60.2 101L59.6 118M64.2 101L64.8 118M62.2 109L62.2 118" fill="#fff" stroke="#1b80c9" stroke-width="0.9"/>
<circle cx="62.2" cy="64.0" r="37" fill="none" stroke="#1b80c9" stroke-width="1"/>
<circle cx="62.2" cy="64.0" r="56.1" fill="none" stroke="#1b80c9" stroke-width="1"/>
<path id="ringp" d="M23.37 52.13A40.6 40.6 0 0 1 101.03 52.13" fill="none"/>
<text font-family="'Liberation Serif',serif" font-size="18" fill="#1b80c9" stroke="#1b80c9" stroke-width="0.45"><textPath href="#ringp" textLength="103.46" lengthAdjust="spacing">EESTI·PANK</textPath></text>
<circle cx="15.6" cy="54.2" r="1.3" fill="#1b80c9"/>
<circle cx="108.8" cy="54.2" r="1.3" fill="#1b80c9"/>
<!--/SEAL-->
  <text x="149.700" y="82.300" font-family="'DejaVu Sans Condensed','DejaVu Sans','Liberation Sans',sans-serif" font-size="38" fill="#0a77bd" stroke="#0a77bd" stroke-width="0.600" textLength="82" lengthAdjust="spacingAndGlyphs">Eesti</text>
  <text x="240.500" y="82.300" font-family="'DejaVu Sans Condensed','DejaVu Sans','Liberation Sans',sans-serif" font-size="38" fill="#0a77bd" stroke="#0a77bd" stroke-width="0.600" textLength="85.800" lengthAdjust="spacingAndGlyphs">Pank</text>
  <text x="18.500" y="134.400" font-family="'Liberation Sans',sans-serif" font-size="10" fill="#2a8fd0" textLength="88" lengthAdjust="spacing">EUROSÜSTEEM</text>
</svg>
</div>

<div class="abs" id="search"></div>
<svg class="abs" style="left:674px;top:72px" width="24" height="24" viewBox="0 0 24 24"><circle cx="9.5" cy="10" r="6.2" fill="none" stroke="#0a73b7" stroke-width="2.6"/><path d="M14 14.6L21.6 22" stroke="#0a73b7" stroke-width="2.8" fill="none"/></svg>
<div class="t" style="left:715.14px;top:76px;font-size:20px;color:#757575;letter-spacing:-0.244px">Search...</div>

<svg class="abs" style="left:1268px;top:74px" width="42" height="22" viewBox="0 0 42 22"><g fill="none" stroke="#0a73b7" stroke-width="2.4"><circle cx="11" cy="10.5" r="7.2"/><circle cx="30" cy="10.5" r="7.2"/><path d="M18 8.5q2.5-2 5 0M1 8.8h3M37 8.8h4"/></g></svg>
<div class="t" style="left:1322.91px;top:76px;font-size:20px;letter-spacing:-0.058px">Accessibility</div>
<div class="t" style="left:1448.68px;top:76px;font-size:20px;letter-spacing:-0.178px">Eesti keeles</div>

<!-- NAV -->
<div class="abs" id="nav"></div>
<div class="abs" id="navact"></div>
<div class="t nv" style="left:39.99px;letter-spacing:-0.343px">Press</div>
<div class="t nv" style="left:137.64px;letter-spacing:0.143px">Publications</div>
<div class="t nv" style="left:301.46px;letter-spacing:0.149px">Monetary policy</div>
<div class="t nv" style="left:502.97px;letter-spacing:-0.091px">Financial stability</div>
<div class="t nv act" style="left:713.94px;letter-spacing:0.268px">Statistics</div>
<div class="t nv" style="left:847.0px;letter-spacing:0.037px">Payments</div>
<div class="t nv" style="left:988.52px;letter-spacing:-0.124px">Research</div>
<div class="t nv" style="left:1124.28px;letter-spacing:0.067px">Notes &amp; coins</div>
<div class="t nv" style="left:1305.51px;letter-spacing:0.072px">About us</div>
<div class="t nv" style="left:1435.64px;letter-spacing:0.424px">Museum</div>

<svg class="chev" style="left:106px" viewBox="0 0 11 7"><path d="M1 1.500L5.500 5.500L10 1.500" fill="none" stroke="#333" stroke-width="1.300"/></svg>
<svg class="chev" style="left:270.3px" viewBox="0 0 11 7"><path d="M1 1.500L5.500 5.500L10 1.500" fill="none" stroke="#333" stroke-width="1.300"/></svg>
<svg class="chev" style="left:471.2px" viewBox="0 0 11 7"><path d="M1 1.500L5.500 5.500L10 1.500" fill="none" stroke="#333" stroke-width="1.300"/></svg>
<svg class="chev" style="left:681.8px" viewBox="0 0 11 7"><path d="M1 1.500L5.500 5.500L10 1.500" fill="none" stroke="#333" stroke-width="1.300"/></svg>
<svg class="chev" style="left:815px" viewBox="0 0 11 7"><path d="M1 1.500L5.500 5.500L10 1.500" fill="none" stroke="#333" stroke-width="1.300"/></svg>
<svg class="chev" style="left:957px" viewBox="0 0 11 7"><path d="M1 1.500L5.500 5.500L10 1.500" fill="none" stroke="#333" stroke-width="1.300"/></svg>
<svg class="chev" style="left:1093.2px" viewBox="0 0 11 7"><path d="M1 1.500L5.500 5.500L10 1.500" fill="none" stroke="#333" stroke-width="1.300"/></svg>
<svg class="chev" style="left:1272.8px" viewBox="0 0 11 7"><path d="M1 1.500L5.500 5.500L10 1.500" fill="none" stroke="#333" stroke-width="1.300"/></svg>
<svg class="chev" style="left:1403.7px" viewBox="0 0 11 7"><path d="M1 1.500L5.500 5.500L10 1.500" fill="none" stroke="#333" stroke-width="1.300"/></svg>
<svg class="chev" style="left:1532.6px" viewBox="0 0 11 7"><path d="M1 1.500L5.500 5.500L10 1.500" fill="none" stroke="#333" stroke-width="1.300"/></svg>

<!-- BREADCRUMB -->
<div class="t" style="left:29.6px;top:301px;font-size:20px;text-decoration:underline;text-decoration-thickness:1.200px;text-underline-offset:2.500px;letter-spacing:-0.408px">Eesti Pank</div>
<svg class="abs" style="left:140px;top:302px" width="12" height="18" viewBox="0 0 12 18"><path d="M3 2.300L9.800 9.200L3 16.100" fill="none" stroke="#0a73b7" stroke-width="2.600"/></svg>
<div class="t" style="left:177.45px;top:301px;font-size:20px;letter-spacing:-0.211px">Exchange rates</div>

<!-- TITLE ROW -->
<div class="t" style="left:19.04px;top:394.500px;font-size:39.200px;-webkit-text-stroke:1.450px #000;letter-spacing:0.859px">Exchange rates</div>
<div class="t" style="left:566.55px;top:406.900px;font-size:14.200px;color:#1a7fc1;-webkit-text-stroke:0.650px;letter-spacing:0.244px">RATES AS OF:</div>
<div class="t" style="left:719.46px;top:404px;font-size:20px;letter-spacing:-0.274px">27.01.2022</div>
<div class="t" style="left:880.2px;top:404px;font-size:20px;letter-spacing:-0.033px">Export</div>

<svg class="abs" style="left:1523px;top:289px" width="30" height="32" viewBox="0 0 30 32"><g fill="none" stroke="#1a1a1a" stroke-width="1.600"><path d="M7.100 7.300V1.800h15.800V7.300"/><path d="M7.100 24.300H5.600a3.800 3.800 0 0 1-3.800-3.800V11.100A3.800 3.800 0 0 1 5.600 7.300H24.400a3.800 3.800 0 0 1 3.800 3.800V20.500A3.800 3.800 0 0 1 24.400 24.300H22.900"/><path d="M4.200 19.900H25.800M7.100 19.900V30.200H22.900V19.900"/><path d="M9 22.300H21.300M9 24.800H21.300" stroke-width="1.300"/></g><circle cx="23.300" cy="12.500" r="1.100" fill="#1a1a1a"/></svg>
<svg class="abs" style="left:822px;top:404px" width="23" height="14" viewBox="0 0 23 14"><path d="M1.200 1.800L11.500 11.500L21.800 1.800" fill="none" stroke="#1a86c8" stroke-width="1.400"/></svg>
<svg class="abs" style="left:1089px;top:407px" width="23" height="14" viewBox="0 0 23 14"><path d="M1.200 1.800L11.500 11.500L21.800 1.800" fill="none" stroke="#1a86c8" stroke-width="1.400"/></svg>

<!-- CARDS -->
<div class="card" style="top:450px"></div>
<svg class="abs" style="left:60px;top:496px" width="22" height="13"><use href="#i-chv"/></svg>
<svg class="abs" style="left:116px;top:487px" width="30" height="30"><use href="#f-au"/></svg>
<div class="t cname" style="left:256.28px;top:492.7px;letter-spacing:-0.333px">AUD (Australian dollar)</div>
<svg class="abs" style="left:0;top:0" width="1140" height="800" viewBox="0 0 1140 800"><path d="M562.200 517L583.500 499.500L603.600 486.500L624.700 494.300L645.800 507.600L666.800 500.200" fill="none" stroke="#0a73b7" stroke-width="2.200" stroke-linejoin="round"/></svg>
<svg class="abs" style="left:686.800px;top:498.200px" width="12" height="8" viewBox="0 0 12 8"><path d="M6 1.600L10.500 6H1.500z" fill="#2ea043" stroke="#2ea043" stroke-width="1.600" stroke-linejoin="round"/></svg>
<div class="t pct" style="left:708.76px;top:492.2px;letter-spacing:-0.384px">0.28 %</div>
<div class="vline" style="top:481px"></div>
<div class="t rate" style="left:882.3px;top:490.3px;letter-spacing:0.103px">1.5771</div>
<div class="pill" style="top:481px"></div>
<svg class="abs" style="left:1004px;top:485.7px" width="26" height="31"><use href="#i-calc"/></svg>
<svg class="abs" style="left:1039px;top:494px" width="11" height="16"><use href="#i-chr"/></svg>
<div class="card" style="top:564px"></div>
<svg class="abs" style="left:60px;top:610px" width="22" height="13"><use href="#i-chv"/></svg>
<svg class="abs" style="left:116px;top:601px" width="30" height="30"><use href="#f-bg"/></svg>
<div class="t cname" style="left:263.52px;top:606.7px;letter-spacing:-0.274px">BGN (Bulgarian lev)</div>
<svg class="abs" style="left:0;top:0" width="1140" height="800" viewBox="0 0 1140 800"><path d="M553 600.400H658" fill="none" stroke="#0a73b7" stroke-width="1.300" stroke-linejoin="round"/></svg>
<svg class="abs" style="left:677.4px;top:612px" width="12" height="8" viewBox="0 0 12 8"><path d="M6 6.400L10.500 2H1.500z" fill="#ff3d3d" stroke="#ff3d3d" stroke-width="1.600" stroke-linejoin="round"/></svg>
<div class="t pct" style="left:699.81px;top:606.2px;letter-spacing:-0.072px">-0.00 %</div>
<div class="vline" style="top:595px"></div>
<div class="t rate" style="left:882.3px;top:604.3px;letter-spacing:0.704px">1.9558</div>
<div class="pill" style="top:595px"></div>
<svg class="abs" style="left:1004px;top:599.7px" width="26" height="31"><use href="#i-calc"/></svg>
<svg class="abs" style="left:1039px;top:608px" width="11" height="16"><use href="#i-chr"/></svg>
<div class="card" style="top:678px"></div>
<svg class="abs" style="left:60px;top:724px" width="22" height="13"><use href="#i-chv"/></svg>
<svg class="abs" style="left:116px;top:715px" width="30" height="30"><use href="#f-br"/></svg>
<div class="t cname" style="left:265.05px;top:720.7px;letter-spacing:-0.303px">BRL (Brasilian real)</div>
<svg class="abs" style="left:0;top:0" width="1140" height="800" viewBox="0 0 1140 800"><path d="M552.500 720.800L572.400 714.700L594.300 716.800L615.400 714.700L647 737.400" fill="none" stroke="#0a73b7" stroke-width="2.200" stroke-linejoin="round"/></svg>
<svg class="abs" style="left:676.5px;top:726.2px" width="12" height="8" viewBox="0 0 12 8"><path d="M6 6.400L10.500 2H1.500z" fill="#ff3d3d" stroke="#ff3d3d" stroke-width="1.600" stroke-linejoin="round"/></svg>
<div class="t pct" style="left:698.33px;top:720.2px;letter-spacing:-0.205px">-1.51 %</div>
<div class="vline" style="top:709px"></div>
<div class="t rate" style="left:882.76px;top:718.3px;letter-spacing:0.599px">6.0159</div>
<div class="pill" style="top:709px"></div>
<svg class="abs" style="left:1004px;top:713.7px" width="26" height="31"><use href="#i-calc"/></svg>
<svg class="abs" style="left:1039px;top:722px" width="11" height="16"><use href="#i-chr"/></svg>

<!-- CALC -->
<div class="abs" id="calc"></div>
<svg class="abs" style="left:1154px;top:376px;border-radius:20px" width="409" height="355" viewBox="0 0 409 355"><defs><linearGradient id="wg" x1="0" y1="0" x2="0" y2="1"><stop offset="0.45" stop-color="#003a66" stop-opacity="0"/><stop offset="0.75" stop-color="#003a66" stop-opacity="0.150"/></linearGradient></defs><path d="M-10 150.0q35 -14 70 -6q35 6 70 -10q35 -14 70 -6q35 6 70 -10q35 -14 70 -6q35 6 70 -10q35 -14 70 -6M-10 158.2q35 -14 70 -6q35 6 70 -10q35 -14 70 -6q35 6 70 -10q35 -14 70 -6q35 6 70 -10q35 -14 70 -6M-10 166.4q35 -14 70 -6q35 6 70 -10q35 -14 70 -6q35 6 70 -10q35 -14 70 -6q35 6 70 -10q35 -14 70 -6M-10 174.6q35 -14 70 -6q35 6 70 -10q35 -14 70 -6q35 6 70 -10q35 -14 70 -6q35 6 70 -10q35 -14 70 -6M-10 182.8q35 -14 70 -6q35 6 70 -10q35 -14 70 -6q35 6 70 -10q35 -14 70 -6q35 6 70 -10q35 -14 70 -6M-10 191.0q35 -14 70 -6q35 6 70 -10q35 -14 70 -6q35 6 70 -10q35 -14 70 -6q35 6 70 -10q35 -14 70 -6M-10 199.2q35 -14 70 -6q35 6 70 -10q35 -14 70 -6q35 6 70 -10q35 -14 70 -6q35 6 70 -10q35 -14 70 -6M-10 207.4q35 -14 70 -6q35 6 70 -10q35 -14 70 -6q35 6 70 -10q35 -14 70 -6q35 6 70 -10q35 -14 70 -6M-10 215.6q35 -14 70 -6q35 6 70 -10q35 -14 70 -6q35 6 70 -10q35 -14 70 -6q35 6 70 -10q35 -14 70 -6M-10 223.8q35 -14 70 -6q35 6 70 -10q35 -14 70 -6q35 6 70 -10q35 -14 70 -6q35 6 70 -10q35 -14 70 -6M-10 232.0q35 -14 70 -6q35 6 70 -10q35 -14 70 -6q35 6 70 -10q35 -14 70 -6q35 6 70 -10q35 -14 70 -6M-10 240.2q35 -14 70 -6q35 6 70 -10q35 -14 70 -6q35 6 70 -10q35 -14 70 -6q35 6 70 -10q35 -14 70 -6M-10 248.4q35 -14 70 -6q35 6 70 -10q35 -14 70 -6q35 6 70 -10q35 -14 70 -6q35 6 70 -10q35 -14 70 -6M-10 256.6q35 -14 70 -6q35 6 70 -10q35 -14 70 -6q35 6 70 -10q35 -14 70 -6q35 6 70 -10q35 -14 70 -6M-10 264.8q35 -14 70 -6q35 6 70 -10q35 -14 70 -6q35 6 70 -10q35 -14 70 -6q35 6 70 -10q35 -14 70 -6M-10 273.0q35 -14 70 -6q35 6 70 -10q35 -14 70 -6q35 6 70 -10q35 -14 70 -6q35 6 70 -10q35 -14 70 -6M-10 281.2q35 -14 70 -6q35 6 70 -10q35 -14 70 -6q35 6 70 -10q35 -14 70 -6q35 6 70 -10q35 -14 70 -6M-10 289.4q35 -14 70 -6q35 6 70 -10q35 -14 70 -6q35 6 70 -10q35 -14 70 -6q35 6 70 -10q35 -14 70 -6M-10 297.6q35 -14 70 -6q35 6 70 -10q35 -14 70 -6q35 6 70 -10q35 -14 70 -6q35 6 70 -10q35 -14 70 -6M-10 305.8q35 -14 70 -6q35 6 70 -10q35 -14 70 -6q35 6 70 -10q35 -14 70 -6q35 6 70 -10q35 -14 70 -6M-10 314.0q35 -14 70 -6q35 6 70 -10q35 -14 70 -6q35 6 70 -10q35 -14 70 -6q35 6 70 -10q35 -14 70 -6M-10 322.2q35 -14 70 -6q35 6 70 -10q35 -14 70 -6q35 6 70 -10q35 -14 70 -6q35 6 70 -10q35 -14 70 -6M-10 330.4q35 -14 70 -6q35 6 70 -10q35 -14 70 -6q35 6 70 -10q35 -14 70 -6q35 6 70 -10q35 -14 70 -6M-10 338.6q35 -14 70 -6q35 6 70 -10q35 -14 70 -6q35 6 70 -10q35 -14 70 -6q35 6 70 -10q35 -14 70 -6M-10 346.8q35 -14 70 -6q35 6 70 -10q35 -14 70 -6q35 6 70 -10q35 -14 70 -6q35 6 70 -10q35 -14 70 -6M-10 355.0q35 -14 70 -6q35 6 70 -10q35 -14 70 -6q35 6 70 -10q35 -14 70 -6q35 6 70 -10q35 -14 70 -6" fill="none" stroke="url(#wg)" stroke-width="0.900"/></svg>
<div class="t" style="left:1219.75px;top:412.600px;font-size:30px;color:#fff;-webkit-text-stroke:0;letter-spacing:-0.205px">Eurocalculator</div>
<svg class="abs" style="left:1175.600px;top:411.500px" width="21.600" height="28.500" viewBox="0 0 21.600 28.500"><g fill="none" stroke="#fff" stroke-width="1.700"><path d="M0.900 0.900h19.800v22.700a4 4 0 0 1-4 4h-11.800a4 4 0 0 1-4-4z"/><path d="M0.900 6.600h19.800"/></g><g fill="#fff"><circle cx="6" cy="12" r="1.450"/><circle cx="10.800" cy="12" r="1.450"/><circle cx="15.600" cy="12" r="1.450"/><circle cx="6" cy="17" r="1.450"/><circle cx="10.800" cy="17" r="1.450"/><circle cx="15.600" cy="17" r="1.450"/><circle cx="6" cy="22" r="1.450"/><circle cx="10.800" cy="22" r="1.450"/><circle cx="15.600" cy="22" r="1.450"/></g></svg>
<div class="cbox" style="top:466px"></div>
<div class="cbox" style="top:556px"></div>
<div class="t" style="left:1207px;top:498px;font-size:18px;font-weight:bold;-webkit-text-stroke:0">1</div>
<div class="abs" style="left:1369px;top:492px;width:1px;height:28px;background:#7a8aa0"></div>
<svg class="abs" style="left:1397px;top:491px" width="30" height="30"><use href="#f-eu"/></svg>
<div class="t" style="left:1447px;top:498.700px;font-size:17px;font-weight:bold;-webkit-text-stroke:0">EUR</div>
<div class="t" style="left:1205.93px;top:587px;font-size:20px;letter-spacing:-0.234px">1.577100</div>
<div class="abs" style="left:1369px;top:582px;width:1px;height:28px;background:#7a8aa0"></div>
<svg class="abs" style="left:1398px;top:581px" width="30" height="30"><use href="#f-au"/></svg>
<div class="t" style="left:1447px;top:588.700px;font-size:17px;font-weight:bold;-webkit-text-stroke:0">AUD</div>
<svg class="abs" style="left:1507.500px;top:590px" width="22" height="13"><use href="#i-chv"/></svg>
<div class="abs" style="left:1338px;top:530px;width:42px;height:42px;border-radius:50%;background:#fff;border:1px solid #8291a8"></div>
<svg class="abs" style="left:1349px;top:541px" width="20" height="20" viewBox="0 0 20 20"><path d="M10 2v16M1.800 10.200l8.200 8l8.200-8" fill="none" stroke="#0a69a6" stroke-width="2.500"/></svg>
<div class="cur" style="left:1203px;width:47px">GBP</div>
<div class="cur" style="left:1270px;width:47px">NOK</div>
<div class="cur" style="left:1337px;width:47px">RUB</div>
<div class="cur" style="left:1404px;width:44px">SEK</div>
<div class="cur" style="left:1468px;width:46px">USD</div>

<!-- COOKIE -->
<div class="abs" id="cookie"></div>
<div class="t" style="left:113.1px;top:785px;font-size:20px;letter-spacing:-0.322px">The Eesti Pank website uses cookies.</div>
<div class="t" style="left:443.2px;top:785px;font-size:20px;letter-spacing:-0.215px">By using our website you agree to our use of cookies.</div>
<div class="t" style="left:914.86px;top:785px;font-size:20px;color:#0a73b7;letter-spacing:-0.075px">Read more.</div>
<div class="abs" style="left:1130px;top:767px;width:96px;height:64px;border-radius:20px;background:#0076bd"></div>
<div class="t" style="left:1151.69px;top:790px;font-size:20px;color:#fff;letter-spacing:-0.281px">Agree</div>
<div class="abs" style="left:1338px;top:767px;width:122px;height:64px;border-radius:20px;border:2px solid #0a73b7;background:#fff"></div>
<div class="t" style="left:1359.42px;top:790px;font-size:20px;color:#0a73b7;letter-spacing:-0.13px">Disagree</div>
</body>
</html>
